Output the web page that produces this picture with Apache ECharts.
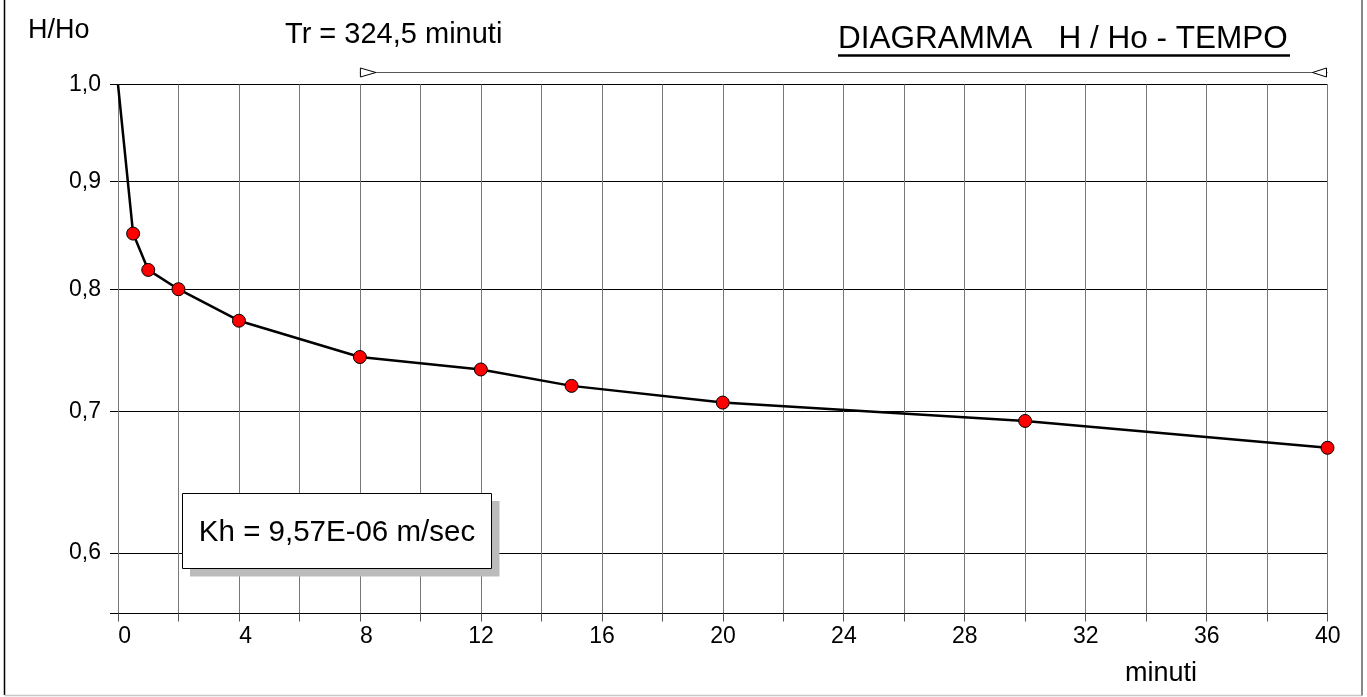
<!DOCTYPE html>
<html>
<head>
<meta charset="utf-8">
<script src="https://cdn.jsdelivr.net/npm/echarts@6/dist/echarts.min.js"></script>
<style>
html,body{margin:0;padding:0;background:#fff;}
#chart{width:1367px;height:697px;}
</style>
</head>
<body>
<div id="chart"></div>
<script>
// ---- data ----
const minutes = [0, 0.5, 1, 2, 4, 8, 12, 15, 20, 30, 40];
const hRatio = [1.0, 0.85, 0.817, 0.80, 0.773, 0.743, 0.733, 0.72, 0.707, 0.693, 0.673];
const yTickValues = [0.6, 0.7, 0.8, 0.9, 1.0];
const yMin = 0.5618;
const yMax = 1.0;
const xMin = 0, xMax = 40, xStep = 2, xLabelStep = 4;
const trStart = 8, trEnd = 40;
const yLabel = 'H/Ho';
const xLabel = 'minuti';
const trText = 'Tr = 324,5 minuti';
const titleText = 'DIAGRAMMA   H / Ho - TEMPO';
const khText = 'Kh = 9,57E-06 m/sec';

const FONT = '"Liberation Sans", Arial, sans-serif';

const seriesData = minutes.map((m, i) => {
  const item = { value: [m, hRatio[i]] };
  if (i === 0) item.symbol = 'none';
  return item;
});

const chart = echarts.init(document.getElementById('chart'), null, { renderer: 'canvas' });

const option = {
  backgroundColor: '#ffffff',
  animation: false,
  grid: { left: 118, right: 39.5, top: 84.5, bottom: 83.5, containLabel: false, outerBoundsMode: 'none' },
  xAxis: {
    type: 'value', min: xMin, max: xMax, interval: xStep,
    axisLine: { show: true, onZero: false, lineStyle: { color: '#000', width: 1 } },
    axisTick: { show: true, length: 8, inside: false, lineStyle: { color: '#555', width: 1 } },
    splitLine: { show: true, lineStyle: { color: '#777', width: 1 } },
    axisLabel: {
      show: true, margin: 12, color: '#000', fontFamily: FONT, fontSize: 23,
      formatter: v => (Math.round(v) % xLabelStep === 0) ? '{w|' + v + '}' : '',
      rich: { w: { width: 26, align: 'right', fontFamily: FONT, fontSize: 23, color: '#000' } }
    }
  },
  yAxis: {
    type: 'log', logBase: 10, min: yMin, max: yMax,
    axisLine: { show: false },
    axisTick: { show: true, length: 8, inside: false, customValues: [yMin].concat(yTickValues), lineStyle: { color: '#000', width: 1 } },
    splitLine: { show: true, lineStyle: { color: '#000', width: 1 } },
    axisLabel: {
      show: true, margin: 17, color: '#000', fontFamily: FONT, fontSize: 23,
      customValues: yTickValues,
      formatter: v => v.toFixed(1).replace('.', ',')
    }
  },
  series: [{
    type: 'line',
    data: seriesData,
    symbol: 'circle', symbolSize: 13,
    lineStyle: { color: '#000', width: 2.5 },
    itemStyle: { color: '#ff0000', borderColor: '#000', borderWidth: 1 },
    z: 5
  }]
};
chart.setOption(option);

const px = v => chart.convertToPixel({ xAxisIndex: 0 }, v);
const xa = px(trStart), xb = px(trEnd);
const arrowY = 72.5;

chart.setOption({
  graphic: [
    // outer frame
    { type: 'line', shape: { x1: 4.5, y1: 0, x2: 4.5, y2: 695 }, style: { stroke: '#000', lineWidth: 1.5 } },
    { type: 'line', shape: { x1: 4.5, y1: 695.5, x2: 1362, y2: 695.5 }, style: { stroke: '#c8c8c8', lineWidth: 1.5 } },
    { type: 'line', shape: { x1: 1362, y1: 0, x2: 1362, y2: 695.5 }, style: { stroke: '#888', lineWidth: 2 } },
    // texts
    { type: 'text', x: 28, y: 30.5, style: { text: yLabel, font: '27px ' + FONT, fill: '#000', textAlign: 'left', textVerticalAlign: 'middle' } },
    { type: 'text', x: 285, y: 34.5, style: { text: trText, font: '29px ' + FONT, fill: '#000', textAlign: 'left', textVerticalAlign: 'middle' } },
    { type: 'text', x: 838, y: 39, style: { text: titleText, font: '31.5px ' + FONT, fill: '#000', textAlign: 'left', textVerticalAlign: 'middle' } },
    { type: 'line', shape: { x1: 838, y1: 55.5, x2: 1290, y2: 55.5 }, style: { stroke: '#000', lineWidth: 2.5 } },
    { type: 'text', x: 1125, y: 673.5, style: { text: xLabel, font: '27px ' + FONT, fill: '#000', textAlign: 'left', textVerticalAlign: 'middle' } },
    // Tr dimension line
    { type: 'line', shape: { x1: xa, y1: arrowY, x2: xb, y2: arrowY }, style: { stroke: '#555', lineWidth: 1.2 }, z: 10 },
    { type: 'polygon', shape: { points: [[xa + 0.5, arrowY - 4.5], [xa + 0.5, arrowY + 4.5], [xa + 16, arrowY]] }, style: { fill: '#fff', stroke: '#000', lineWidth: 1 }, z: 11 },
    { type: 'polygon', shape: { points: [[xb - 1, arrowY - 4.5], [xb - 1, arrowY + 4.5], [xb - 15, arrowY]] }, style: { fill: '#fff', stroke: '#000', lineWidth: 1 }, z: 11 },
    // Kh box with shadow
    { type: 'rect', shape: { x: 190, y: 501, width: 309.5, height: 75.5 }, style: { fill: '#bbbbbb' }, z: 20 },
    { type: 'rect', shape: { x: 182.5, y: 493.5, width: 309, height: 75 }, style: { fill: '#fff', stroke: '#000', lineWidth: 1 }, z: 21 },
    { type: 'text', x: 337, y: 532.5, style: { text: khText, font: '29.5px ' + FONT, fill: '#000', textAlign: 'center', textVerticalAlign: 'middle' }, z: 22 }
  ]
});
</script>
</body>
</html>
